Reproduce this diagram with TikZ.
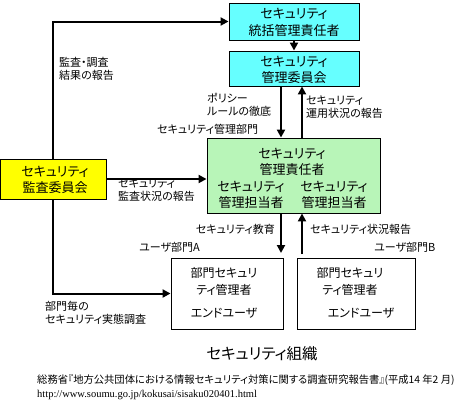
\documentclass[tikz,border=0pt]{standalone}
\usepackage{fontspec}
\setmainfont{Noto Sans CJK JP}[RawFeature=+palt]
\newfontfamily\urlfont{Liberation Serif}
\usetikzlibrary{arrows.meta}
\definecolor{cyanbox}{HTML}{66FFFF}
\definecolor{greenbox}{HTML}{B8F5B8}
\definecolor{yellowbox}{HTML}{FFFF00}
\tikzset{
  box/.style={draw=black, line width=0.9pt, inner sep=0pt},
  boxtext/.style={align=center, inner sep=0pt, font=\fontsize{13}{16.5}\selectfont},
  lbl/.style={inner sep=0pt, font=\fontsize{11}{13}\selectfont},
  conn/.style={line width=2pt, -{Triangle[width=8pt,length=8pt]}},
  plain/.style={line width=2pt}
}
\begin{document}
\begin{tikzpicture}[x=1pt,y=-1pt]
\useasboundingbox (0,0) rectangle (465,402);
% boxes
\node[box, fill=cyanbox, minimum width=130pt, minimum height=37pt] (b1) at (294,21.5) {};
\node[box, fill=cyanbox, minimum width=130pt, minimum height=35pt] (b2) at (294,68.5) {};
\node[box, fill=greenbox, minimum width=173pt, minimum height=75pt] (g) at (293.5,175.5) {};
\node[box, fill=yellowbox, minimum width=105.5pt, minimum height=40pt] (y) at (53.25,179) {};
\node[box, minimum width=112pt, minimum height=71pt] (a) at (227,293.5) {};
\node[box, minimum width=118pt, minimum height=71pt] (bb) at (356,293.5) {};
% box texts
\node[boxtext] (t1) at (294,22.5) {セキュリティ\\統括管理責任者};
\node[boxtext] (t2) at (294,70) {セキュリティ\\管理委員会};
\node[boxtext] (tg) at (292,162) {セキュリティ\\管理責任者};
\node[boxtext] (tg1) at (251,195) {セキュリティ\\管理担当者};
\node[boxtext] (tg2) at (334,195) {セキュリティ\\管理担当者};
\node[boxtext] (ty) at (55,180) {セキュリティ\\監査委員会};
\node[boxtext, font=\fontsize{12}{17}\selectfont] (ta) at (224,281.5) {部門セキュリ\\ティ管理者};
\node[boxtext, font=\fontsize{12}{17}\selectfont] (ta2) at (224,313) {エンドユーザ};
\node[boxtext, font=\fontsize{12}{17}\selectfont] (tb) at (350,281.5) {部門セキュリ\\ティ管理者};
\node[boxtext, font=\fontsize{12}{17}\selectfont] (tb2) at (361,313) {エンドユーザ};
% connectors
\draw[conn] (b1.south) -- (b2.north);
\draw[conn] (y.north) |- (b1.west);
\draw[conn] (y.south) |- (a.west);
\draw[conn] (y.east) -- (y.east -| g.west);
\coordinate (p1) at (281,86);
\coordinate (p2) at (302,86);
\draw[conn] (p1 |- b2.south) -- (p1 |- g.north);
\draw[conn] (p2 |- g.north) -- (p2 |- b2.south);
\coordinate (endA) at (281,253);
\coordinate (startB) at (302,254);
\draw[conn] (endA |- g.south) -- (endA);
\draw[conn] (startB) -- (startB |- g.south);
% labels
\node[lbl, anchor=north west, align=left] (l1) at (59,57) {監査・調査\\結果の報告};
\node[lbl, anchor=north west, align=left] (l2) at (207,93) {ポリシー\\ルールの徹底};
\node[lbl, anchor=north west, align=left] (l3) at (306,96) {セキュリティ\\運用状況の報告};
\node[lbl, anchor=west] (l4) at (157,129) {セキュリティ管理部門};
\node[lbl, anchor=north west, align=left] (l5) at (118,179) {セキュリティ\\監査状況の報告};
\node[lbl, anchor=east] (l6) at (275,229) {セキュリティ教育};
\node[lbl, anchor=west] (l7) at (310,229) {セキュリティ状況報告};
\node[lbl, anchor=west] (l8) at (139,247) {ユーザ部門A};
\node[lbl, anchor=west] (l9) at (374,247) {ユーザ部門B};
\node[lbl, anchor=north west, align=left] (l10) at (45,301) {部門毎の\\セキュリティ実態調査};
% title and source
\node[inner sep=0pt, font=\fontsize{15.5}{18}\selectfont] (title) at (262,354) {セキュリティ組織};
\node[inner sep=0pt, anchor=west, font=\fontsize{10.3}{12}\selectfont] (src) at (37,380) {総務省『地方公共団体における情報セキュリティ対策に関する調査研究報告書』(平成14 年2 月)};
\node[inner sep=0pt, anchor=west, font=\urlfont\fontsize{10.5}{12}\selectfont] (url) at (37,395) {http://www.soumu.go.jp/kokusai/sisaku020401.html};
\end{tikzpicture}
\end{document}
